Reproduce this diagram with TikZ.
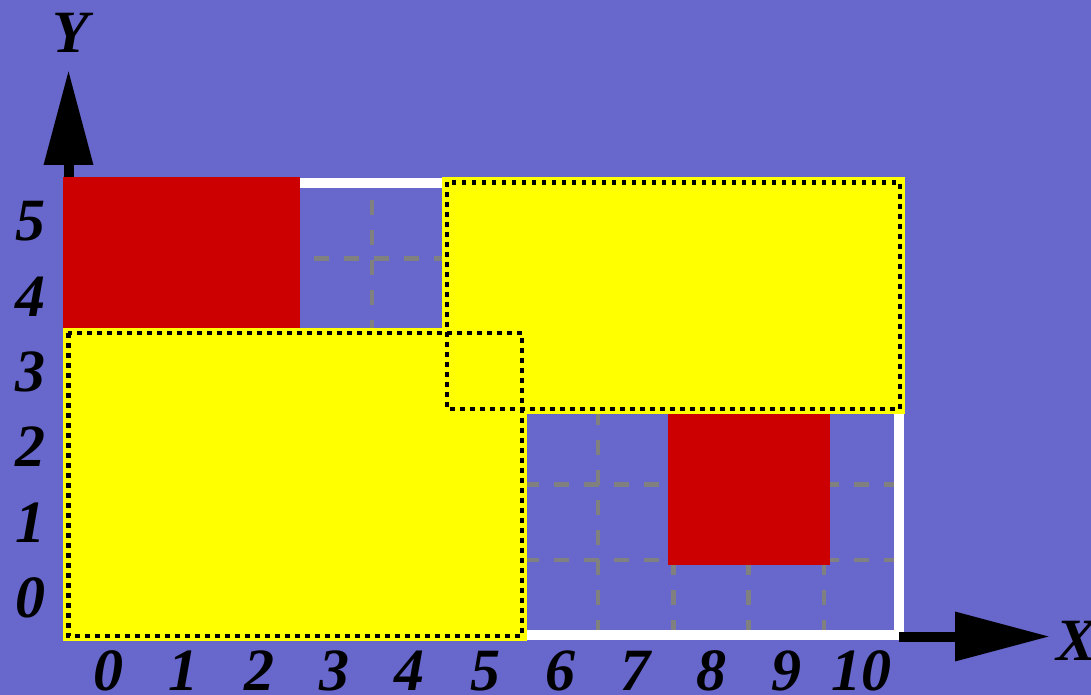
\documentclass[tikz,border=0pt]{standalone}
\usepackage{fontspec}
\setmainfont{Liberation Serif}
\usetikzlibrary{arrows.meta}
\definecolor{bg}{RGB}{103,103,204}
\definecolor{redc}{RGB}{204,0,0}
\definecolor{yel}{RGB}{255,255,0}
\definecolor{gridc}{RGB}{128,128,128}
\tikzset{
  lab/.style={font=\fontsize{60}{60}\selectfont\bfseries\itshape, inner sep=0pt, text=black},
  gridline/.style={draw=gridc, line width=4.5pt, dash pattern=on 15pt off 15pt},
  frameline/.style={draw=white, line width=10pt},
  redbox/.style={fill=redc},
  yelbox/.style={fill=yel},
  dotline/.style={draw=black, line width=4.5pt, dash pattern=on 4.5pt off 5.5pt},
  axis/.style={line width=10pt, draw=black, -{Triangle[length=95pt,width=47pt]}}
}
\begin{document}
\begin{tikzpicture}[x=1pt,y=-1pt]
\useasboundingbox (0,0) rectangle (1091,695);
\fill[bg] (0,0) rectangle (1091,695);
% grid
\foreach \i in {1,...,10}
  \draw[gridline] ({70.7+\i*75.33},635.3) -- ({70.7+\i*75.33},183.3);
\foreach \j in {1,...,5}
  \draw[gridline] (899.4,{635.3-\j*75.33}) -- (70.7,{635.3-\j*75.33});
% frame
\draw[frameline] (70.7,183.3) rectangle (899.4,635.3);
% axes
\coordinate (yfoot) at (68.5,183);
\coordinate (ytip) at (68.5,70);
\coordinate (xfoot) at (899,636.5);
\coordinate (xtip) at (1050,636.5);
\draw[axis] (yfoot) -- (ytip);
\draw[axis] (xfoot) -- (xtip);
% boxes
\fill[redbox] (63.3,177.3) rectangle (300,328);
\fill[yelbox] (63.3,328) rectangle (527,641);
\fill[yelbox] (442,177.3) rectangle (905,414);
\fill[redbox] (668,414) rectangle (830,565);
\draw[dotline] (68.3,333) rectangle (522,636);
\draw[dotline] (447,182.3) rectangle (900,409);
% labels
\foreach \i in {0,...,10}
  \node[lab] (xl\i) at ({70.7+(\i+0.5)*75.33},671) {\i};
\foreach \j in {0,...,5}
  \node[lab] (yl\j) at (30,{635.3-(\j+0.5)*75.33}) {\j};
\node[lab] (ylab) at (71,33) {Y};
\node[lab] (xlab) at (1076,641) {X};
\end{tikzpicture}
\end{document}
